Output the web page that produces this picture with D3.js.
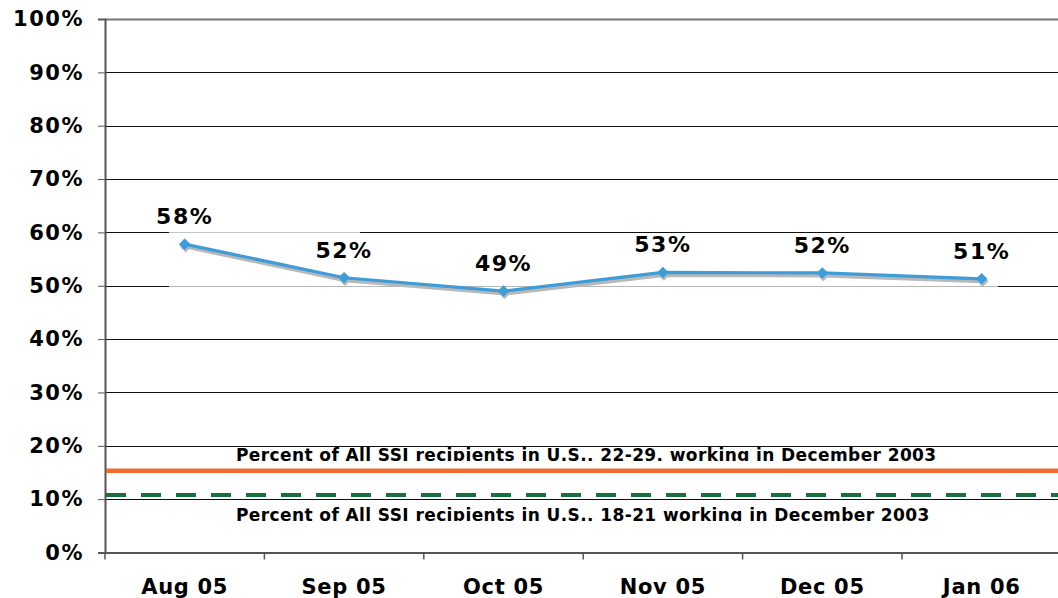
<!DOCTYPE html>
<html>
<head>
<meta charset="utf-8">
<script src="https://cdn.jsdelivr.net/npm/d3@7"></script>
<style>
  body { margin: 0; background: #fff; }
  text { font-family: "DejaVu Sans", Verdana, sans-serif; font-weight: bold; fill: #000; }
</style>
</head>
<body>
<div id="chart"></div>
<script>
// data
var months = ["Aug 05", "Sep 05", "Oct 05", "Nov 05", "Dec 05", "Jan 06"];
var values = [57.8, 51.5, 49.0, 52.5, 52.4, 51.3];
var valueLabels = ["58%", "52%", "49%", "53%", "52%", "51%"];
var yTicks = [0, 10, 20, 30, 40, 50, 60, 70, 80, 90, 100];
var refValues = [15.3, 10.8];
var refLabels = [
  "Percent of All SSI recipients in U.S., 22-29, working in December 2003",
  "Percent of All SSI recipients in U.S., 18-21 working in December 2003"
];

var W = 1058, H = 598;
var margin = {top: 19, left: 105},
  plotH = 533.5,
  bandW = 159.4;

var svg = d3.select("#chart").append("svg")
  .attr("width", W).attr("height", H);

var x = d3.scaleBand()
  .domain(months)
  .range([margin.left, margin.left + bandW * months.length]);

var y = d3.scaleLinear()
  .domain([0, 100])
  .range([margin.top + plotH, margin.top]);

// gridlines
svg.append("g").selectAll("line")
  .data(yTicks.filter(function(d) { return d > 0; }))
  .enter().append("line")
    .attr("x1", margin.left).attr("x2", W)
    .attr("y1", function(d) { return Math.round(y(d)) + 0.5; })
    .attr("y2", function(d) { return Math.round(y(d)) + 0.5; })
    .style("stroke", function(d) { return d == 100 ? "#777" : "#111"; })
    .style("stroke-width", function(d) { return d == 100 ? 2 : 1; });

// pasted white patch over the data area (as in the original slide)
var patchX0 = 169, patchX1 = 998;
svg.append("rect")
  .attr("x", patchX0).attr("width", patchX1 - patchX0)
  .attr("y", Math.round(y(60)) + 1)
  .attr("height", Math.round(y(50)) - Math.round(y(60)) - 1)
  .style("fill", "#fff");
svg.append("line")
  .attr("x1", patchX0).attr("x2", 360)
  .attr("y1", Math.round(y(60)) + 0.5).attr("y2", Math.round(y(60)) + 0.5)
  .style("stroke", "#c4c4c4");
svg.append("line")
  .attr("x1", patchX0).attr("x2", patchX1)
  .attr("y1", Math.round(y(50)) + 0.5).attr("y2", Math.round(y(50)) + 0.5)
  .style("stroke", "#b8b8b8");

// y axis
var yAxis = svg.append("g")
  .attr("transform", "translate(" + margin.left + ",0)")
  .call(d3.axisLeft(y).tickValues(yTicks).tickSize(7).tickPadding(14)
    .tickFormat(function(d) { return d + "%"; }));
yAxis.select(".domain").style("stroke", "#555").style("stroke-width", 2);
yAxis.selectAll(".tick line").style("stroke", "#555");
yAxis.selectAll(".tick text")
  .style("font-size", "21px")
  .style("letter-spacing", "1.5px")
  .style("font-family", "'DejaVu Sans', Verdana, sans-serif")
  .style("font-weight", "bold")
  .attr("fill", "#000");

// x axis
var xAxis = svg.append("g")
  .attr("transform", "translate(0," + (margin.top + plotH) + ")")
  .call(d3.axisBottom(x).tickSize(0).tickPadding(27));
xAxis.select(".domain").style("stroke", "#555").style("stroke-width", 2);
xAxis.selectAll(".tick text")
  .style("font-size", "21px")
  .style("letter-spacing", "0.7px")
  .style("font-family", "'DejaVu Sans', Verdana, sans-serif")
  .style("font-weight", "bold")
  .attr("fill", "#000");
// category separator ticks
var sepX = months.map(function(m) { return x(m); });
xAxis.selectAll(".sep")
  .data(sepX)
  .enter().append("line")
    .attr("x1", function(d) { return d; }).attr("x2", function(d) { return d; })
    .attr("y1", 0).attr("y2", 7)
    .style("stroke", "#555").style("stroke-width", 1.5);

// reference lines
svg.append("clipPath").attr("id", "clipTop").append("rect")
  .attr("x", 0).attr("width", W).attr("y", 0).attr("height", 461);
svg.append("clipPath").attr("id", "clipBot").append("rect")
  .attr("x", 0).attr("width", W).attr("y", 0).attr("height", 521);

svg.append("line")
  .attr("x1", margin.left + 1).attr("x2", W)
  .attr("y1", y(refValues[0])).attr("y2", y(refValues[0]))
  .style("stroke", "#f26d2f").style("stroke-width", 4.5);
svg.append("line")
  .attr("x1", margin.left + 1).attr("x2", W)
  .attr("y1", y(refValues[1])).attr("y2", y(refValues[1]))
  .style("stroke", "#17703d").style("stroke-width", 4)
  .style("stroke-dasharray", "20,15");

svg.append("text")
  .attr("x", 236).attr("y", y(refValues[0]) - 10)
  .attr("clip-path", "url(#clipTop)")
  .style("font-size", "17px")
  .style("letter-spacing", "0.4px")
  .text(refLabels[0]);
svg.append("text")
  .attr("x", 236).attr("y", y(refValues[1]) + 26)
  .attr("clip-path", "url(#clipBot)")
  .style("font-size", "17px")
  .style("letter-spacing", "0.4px")
  .text(refLabels[1]);

// series
var pts = months.map(function(m, i) {
  return {x: x(m) + x.bandwidth() / 2, y: y(values[i]), label: valueLabels[i]};
});
var line = d3.line().x(function(d) { return d.x; }).y(function(d) { return d.y; });
var diamond = d3.symbol().type(d3.symbolDiamond2).size(85);

// soft shadow
svg.append("path")
  .datum(pts)
  .attr("d", line)
  .attr("transform", "translate(1,2.5)")
  .style("fill", "none").style("stroke", "#b8b8b8").style("stroke-width", 4);
svg.selectAll(".shadowMark")
  .data(pts).enter().append("path")
    .attr("d", diamond)
    .attr("transform", function(d) { return "translate(" + (d.x + 1) + "," + (d.y + 2.5) + ")"; })
    .style("fill", "#b8b8b8");

svg.append("path")
  .datum(pts)
  .attr("d", line)
  .style("fill", "none").style("stroke", "#3e9cd8").style("stroke-width", 3.2);
svg.selectAll(".mark")
  .data(pts).enter().append("path")
    .attr("d", diamond)
    .attr("transform", function(d) { return "translate(" + d.x + "," + d.y + ")"; })
    .style("fill", "#3e9cd8");

svg.selectAll(".vlabel")
  .data(pts).enter().append("text")
    .attr("x", function(d) { return d.x; })
    .attr("y", function(d) { return d.y - 20; })
    .attr("text-anchor", "middle")
    .style("font-size", "22px")
    .style("letter-spacing", "1.5px")
    .text(function(d) { return d.label; });
</script>
</body>
</html>
